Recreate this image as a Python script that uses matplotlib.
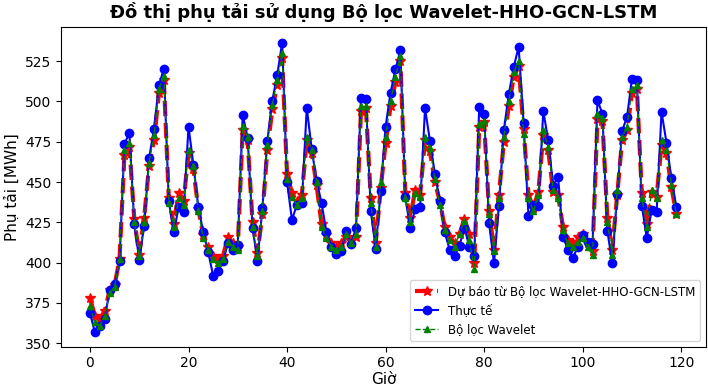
import numpy as np
import matplotlib.pyplot as plt

hours = list(range(120))

thuc_te = [368.7, 356.8, 360.5, 365.3, 382.8, 386.5, 400.9, 473.5, 480.7, 424.0,
           401.8, 423.0, 464.8, 483.0, 510.0, 520.3, 438.2, 418.8, 434.3, 431.2,
           484.4, 460.5, 434.3, 418.8, 406.5, 392.0, 395.1, 400.9, 412.0, 408.0,
           411.0, 491.6, 477.6, 421.5, 401.3, 433.9, 475.5, 500.3, 516.4, 536.3,
           449.8, 426.5, 436.0, 436.8, 496.2, 470.4, 450.8, 437.0, 418.8, 410.0,
           405.5, 407.5, 419.5, 411.7, 421.5, 502.3, 501.3, 431.8, 408.6, 444.6,
           484.4, 505.4, 519.9, 531.6, 440.5, 421.5, 433.3, 434.7, 495.8, 475.5,
           455.0, 438.4, 418.8, 408.0, 404.4, 410.6, 421.7, 410.0, 404.4, 496.6,
           492.4, 424.4, 399.7, 435.3, 482.3, 504.4, 521.3, 533.9, 486.9, 428.7,
           436.0, 435.3, 494.1, 476.0, 447.7, 453.3, 416.2, 408.0, 403.0, 409.6,
           417.4, 412.6, 411.6, 500.7, 492.4, 419.9, 399.7, 442.6, 481.7, 490.4,
           514.1, 513.0, 435.3, 415.4, 432.7, 431.2, 493.5, 474.5, 452.2, 434.7]

wavelet = [373, 363, 361, 367, 381, 385, 402, 470, 474, 425,
           404, 425, 462, 479, 508, 516, 437, 422, 440, 436,
           470, 460, 432, 415, 408, 402, 400, 402, 413, 410,
           408, 485, 478, 422, 404, 432, 473, 498, 513, 530,
           452, 441, 436, 440, 478, 470, 450, 422, 415, 410,
           408, 410, 418, 412, 418, 497, 497, 437, 410, 450,
           478, 500, 515, 528, 440, 425, 443, 441, 478, 471,
           452, 436, 420, 414, 410, 418, 426, 414, 396, 486,
           488, 430, 407, 440, 478, 500, 518, 525, 480, 440,
           432, 442, 482, 472, 445, 440, 420, 412, 410, 413,
           415, 410, 405, 492, 490, 425, 405, 445, 478, 484,
           508, 510, 440, 422, 445, 440, 476, 470, 448, 430]

du_bao = [378, 367, 365, 370, 383, 386, 402, 467, 472, 427,
          405, 428, 460, 476, 505, 513, 440, 424, 443, 438,
          468, 458, 433, 417, 410, 404, 402, 404, 416, 412,
          410, 482, 476, 425, 406, 430, 470, 495, 510, 527,
          455, 443, 438, 442, 476, 468, 448, 424, 417, 412,
          410, 412, 416, 414, 416, 494, 496, 440, 412, 446,
          474, 497, 512, 525, 443, 428, 445, 442, 476, 469,
          450, 438, 422, 416, 412, 418, 427, 418, 400, 484,
          487, 432, 408, 442, 475, 497, 515, 522, 483, 442,
          434, 444, 479, 470, 444, 442, 422, 414, 412, 416,
          418, 412, 407, 489, 488, 428, 408, 442, 476, 482,
          505, 508, 443, 424, 444, 441, 473, 468, 447, 430]

fig, ax = plt.subplots(figsize=(7.08, 3.86), dpi=100)
fig.subplots_adjust(left=0.086, right=0.997, top=0.931, bottom=0.102)

ax.plot(hours, du_bao, 'r--', marker='*', markersize=7, linewidth=3,
        label='Dự báo từ Bộ lọc Wavelet-HHO-GCN-LSTM')
ax.plot(hours, thuc_te, 'b-', marker='o', markersize=6, linewidth=1.5,
        label='Thực tế')
ax.plot(hours, wavelet, 'g--', marker='^', markersize=4, linewidth=1,
        label='Bộ lọc Wavelet')

ax.set_ylim(347.9, 546.4)
ax.set_xlim(-5.9, 125)
ax.set_title('Đồ thị phụ tải sử dụng Bộ lọc Wavelet-HHO-GCN-LSTM',
             fontsize=13, fontweight='bold')
ax.set_xlabel('Giờ', fontsize=11, labelpad=1)
ax.set_ylabel('Phụ tải [MWh]', fontsize=11)
ax.tick_params(labelsize=10)
ax.legend(loc='lower right', fontsize=8.5)

plt.savefig('out.png', dpi=100)
